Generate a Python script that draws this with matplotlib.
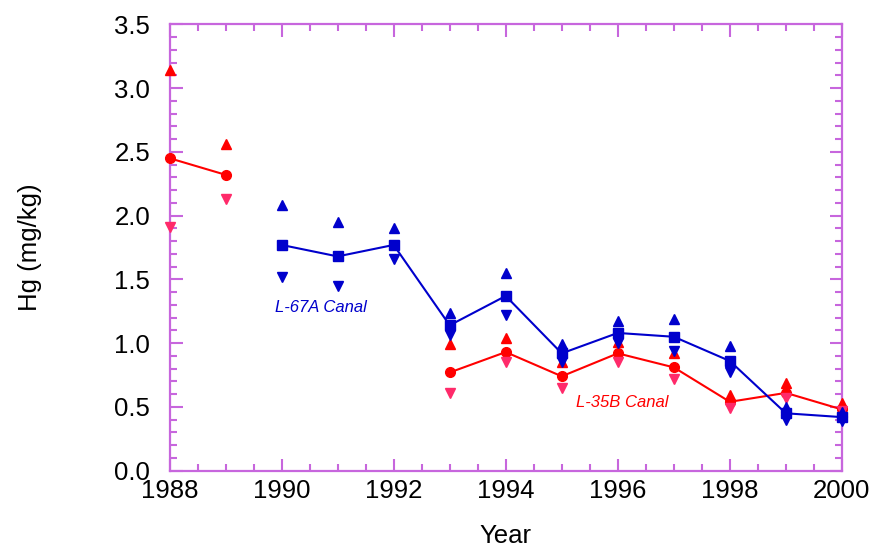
import numpy as np
import matplotlib
matplotlib.use("Agg")
import matplotlib.pyplot as plt
from matplotlib.ticker import MultipleLocator

plt.rcParams['font.family'] = ['Liberation Sans', 'DejaVu Sans']

years = [1988, 1989, 1990, 1991, 1992, 1993, 1994, 1995, 1996, 1997, 1998, 1999, 2000]
nan = np.nan

# L-35B Canal (red)
l35b_mean = [2.45, 2.32, nan, nan, nan, 0.77, 0.93, 0.74, 0.92, 0.81, 0.54, 0.61, 0.48]
l35b_max = [3.14, 2.56, nan, nan, nan, 0.99, 1.04, 0.85, 1.01, 0.92, 0.59, 0.69, 0.53]
l35b_min = [1.91, 2.13, nan, nan, nan, 0.61, 0.85, 0.65, 0.85, 0.72, 0.49, 0.57, 0.47]

# L-67A Canal (blue)
l67a_mean = [nan, nan, 1.77, 1.68, 1.77, 1.14, 1.37, 0.92, 1.08, 1.05, 0.86, 0.45, 0.42]
l67a_max = [nan, nan, 2.08, 1.95, 1.90, 1.24, 1.55, 0.99, 1.17, 1.19, 0.98, 0.50, 0.46]
l67a_min = [nan, nan, 1.52, 1.45, 1.66, 1.06, 1.22, 0.85, 1.00, 0.94, 0.77, 0.40, 0.39]

purple = '#C766DD'
red = '#FF0000'
pink = '#FF2A6A'
blue = '#0000CC'

fig = plt.figure(figsize=(8.77, 5.52), dpi=100)
ax = fig.add_axes([0.1933, 0.1473, 0.7667, 0.8087])

x = np.array(years, dtype=float)

# red series
ax.plot(x, l35b_mean, color=red, lw=1.5, marker='o', ms=7, mec=red, mfc=red, clip_on=False, zorder=3)
ax.plot(x, l35b_max, ls='none', marker='^', ms=7, color=red, clip_on=False, zorder=3)
ax.plot(x, l35b_min, ls='none', marker='v', ms=7, color=pink, clip_on=False, zorder=3)

# blue series
ax.plot(x, l67a_mean, color=blue, lw=1.5, marker='s', ms=7.5, mec=blue, mfc=blue, clip_on=False, zorder=4)
ax.plot(x, l67a_max, ls='none', marker='^', ms=7, color=blue, clip_on=False, zorder=4)
ax.plot(x, l67a_min, ls='none', marker='v', ms=7, color=blue, clip_on=False, zorder=4)

ax.text(1989.88, 1.277, 'L-67A Canal', color=blue, style='italic', fontsize=12, va='center', ha='left')
ax.text(1995.26, 0.534, 'L-35B Canal', color=red, style='italic', fontsize=12, va='center', ha='left')

ax.set_xlim(1988, 2000)
ax.set_ylim(0, 3.5)
ax.xaxis.set_major_locator(MultipleLocator(2))
ax.xaxis.set_minor_locator(MultipleLocator(0.5))
ax.yaxis.set_major_locator(MultipleLocator(0.5))
ax.yaxis.set_minor_locator(MultipleLocator(0.1))
ax.yaxis.set_major_formatter(matplotlib.ticker.FormatStrFormatter('%.1f'))

for s in ax.spines.values():
    s.set_color(purple)
    s.set_linewidth(1.6)

ax.tick_params(which='both', direction='in', top=True, right=True, color=purple, labelsize=18.5)
ax.tick_params(which='major', length=9, width=1.5)
ax.tick_params(which='minor', length=5, width=1.5)
ax.tick_params(axis='x', which='major', pad=6)
ax.tick_params(axis='y', which='major', pad=14)

ax.set_xlabel('Year', fontsize=18.5, labelpad=15)
ax.set_ylabel('Hg (mg/kg)', fontsize=18.5, labelpad=52)

fig.savefig('out.png', dpi=100)
